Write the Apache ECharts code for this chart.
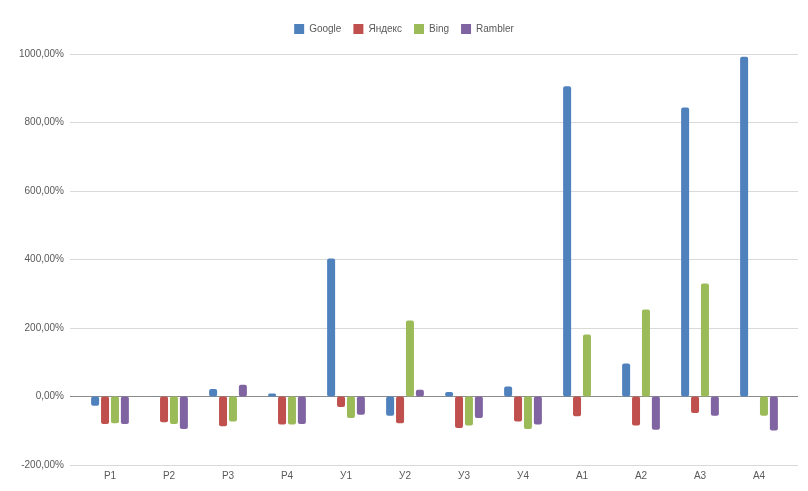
<!DOCTYPE html>
<html>
<head>
<meta charset="utf-8">
<script src="https://cdn.jsdelivr.net/npm/echarts@6/dist/echarts.min.js"></script>
<style>html,body{margin:0;padding:0;background:#fff}#c{width:808px;height:491px}</style>
</head>
<body>
<div id="c"></div>
<script>
var categories = ['Р1','Р2','Р3','Р4','У1','У2','У3','У4','А1','А2','А3','А4'];
var seriesNames = ['Google','Яндекс','Bing','Rambler'];
var google  = [-27, 1, 22, 9, 403, -56, 13, 29, 906, 96, 844, 992];
var yandex  = [-80, -75, -87, -82, -31, -78, -92, -73, -58, -85, -48, null];
var bing    = [-78, -80, -73, -82, -63, 222, -85, -95, 181, 254, 330, -56];
var rambler = [-80, -95, 34, -80, -53, 20, -63, -82, null, -97, -56, -99];
var yTicks = {min: -200, max: 1000, interval: 200};
var colors = ['#4F81BD','#C0504D','#9BBB59','#8064A2'];

var values = [google, yandex, bing, rambler];
var txt = '#595959';
var font = 'Liberation Sans';
var splitColors = [];
for (var v = yTicks.min; v <= yTicks.max; v += yTicks.interval) splitColors.push(v === 0 ? '#8c8c8c' : '#d9d9d9');

var chart = echarts.init(document.getElementById('c'), null, {renderer: 'canvas'});
chart.setOption({
  animation: false,
  color: colors,
  textStyle: {fontFamily: font},
  legend: {
    top: 19, left: 'center',
    itemWidth: 10, itemHeight: 10, itemGap: 12,
    icon: 'rect',
    textStyle: {color: txt, fontSize: 10, fontFamily: font},
    data: seriesNames
  },
  grid: [
    {left: 70, right: 10, top: 54, bottom: 26},
    {left: 80.5, right: 19.5, top: 54, bottom: 26}
  ],
  xAxis: [
    {type: 'value', gridIndex: 0, show: false, min: 0, max: 1},
    {type: 'category', gridIndex: 1, data: categories,
     axisLine: {show: false, onZero: false}, axisTick: {show: false},
     axisLabel: {color: txt, fontSize: 10, margin: 6, fontFamily: font}}
  ],
  yAxis: [
    {type: 'value', gridIndex: 0, min: yTicks.min, max: yTicks.max, interval: yTicks.interval,
     axisLine: {show: false}, axisTick: {show: false},
     axisLabel: {color: txt, fontSize: 10, margin: 6, fontFamily: font,
       formatter: function (v) { return v + ',00%'; }},
     splitLine: {show: true, lineStyle: {color: splitColors, width: 1}}},
    {type: 'value', gridIndex: 1, min: yTicks.min, max: yTicks.max, interval: yTicks.interval,
     show: false, splitLine: {show: false}}
  ],
  series: seriesNames.map(function (n, i) {
    return {
      name: n, type: 'bar', xAxisIndex: 1, yAxisIndex: 1,
      data: values[i], barWidth: 8, barGap: '24%',
      itemStyle: {color: colors[i], borderRadius: 2}
    };
  })
});
</script>
</body>
</html>
